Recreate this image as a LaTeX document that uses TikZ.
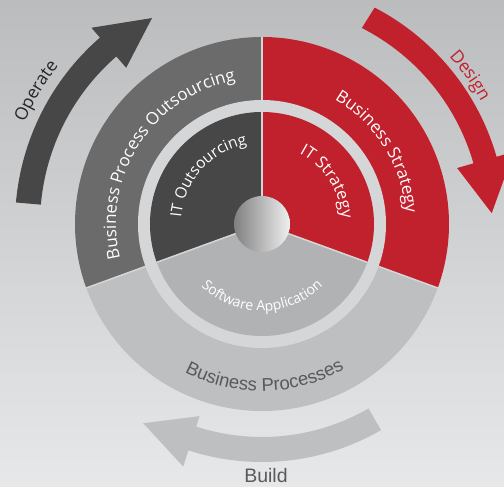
\documentclass[tikz,border=0pt]{standalone}
\usepackage{fontspec}
\setsansfont{Open Sans}
\newfontfamily\arialfont{Liberation Sans}
\usetikzlibrary{decorations.text}
\definecolor{bgtop}{HTML}{BBBCBE}
\definecolor{bgbottom}{HTML}{E7E8E9}
\definecolor{darkseg}{HTML}{474747}
\definecolor{midseg}{HTML}{6B6B6B}
\definecolor{redseg}{HTML}{C1202D}
\definecolor{lightseg}{HTML}{BEBFC1}
\definecolor{softseg}{HTML}{B1B2B4}
\definecolor{gapring}{HTML}{D5D6D8}
\definecolor{labelgray}{HTML}{58595B}
\definecolor{opgray}{HTML}{262626}
\tikzstyle{divider} = [draw=gapring, line width=1.5pt]
\tikzstyle{arctext} = [decorate, decoration={text along path, text align=center}]

\begin{document}
\begin{tikzpicture}[x=1pt, y=1pt]
        \useasboundingbox (-262,-263) rectangle (242,224);
        \shade[top color=bgtop, bottom color=bgbottom] (-262,-263) rectangle (242,224);

        % outer ring
        \fill[midseg] (0,0) -- (90:187) arc[start angle=90, end angle=200, radius=187] -- cycle;
        \fill[redseg] (0,0) -- (-20:187) arc[start angle=-20, end angle=90, radius=187] -- cycle;
        \fill[lightseg] (0,0) -- (200:187) arc[start angle=200, end angle=340, radius=187] -- cycle;
        \fill[gapring] (0,0) circle (124);

        % inner ring
        \fill[darkseg] (0,0) -- (90:112) arc[start angle=90, end angle=200, radius=112] -- cycle;
        \fill[redseg] (0,0) -- (-20:112) arc[start angle=-20, end angle=90, radius=112] -- cycle;
        \fill[softseg] (0,0) -- (200:112) arc[start angle=200, end angle=340, radius=112] -- cycle;

        \draw[divider] (90:124) -- (90:187);
        \draw[divider] (200:124) -- (200:187);
        \draw[divider] (340:124) -- (340:187);
        \draw[divider] (0,0) -- (90:112);
        \draw[divider] (0,0) -- (200:112);
        \draw[divider] (0,0) -- (340:112);

        \shade[left color=black!50, right color=white!94!black] (0,0) circle (28);

        % curved arrows
        \fill[darkseg] (175:222) arc[start angle=175, end angle=131, radius=222] -- (131:207) -- (118.1:233.5)
            -- (131:260) -- (131:247) arc[start angle=131, end angle=175, radius=247] -- cycle;
        \fill[redseg] (63:220) arc[start angle=63, end angle=16, radius=220] -- (16:203) -- (2.7:230)
            -- (16:262) -- (16:244) arc[start angle=16, end angle=62.5, radius=244] -- cycle;
        \fill[lightseg] (300:213) arc[start angle=300, end angle=252, radius=213] -- (252:202) -- (239.2:232)
            -- (252:255) -- (252:238) arc[start angle=252, end angle=300, radius=238] -- cycle;

        % texts on the rings
        \path[arctext, decoration={text={|\sffamily\fontsize{17}{20}\selectfont\color{white}|Business Process Outsourcing}}]
            (203:146) arc[start angle=203, end angle=91, radius=146];
        \path[arctext, decoration={text={|\sffamily\fontsize{15.5}{18}\selectfont\color{white}|IT Outsourcing}}]
            (193:81) arc[start angle=193, end angle=83, radius=81];
        \path[arctext, decoration={text={|\sffamily\fontsize{17}{20}\selectfont\color{white}|Business Strategy}}]
            (87:144) arc[start angle=87, end angle=-23, radius=144];
        \path[arctext, decoration={text={|\sffamily\fontsize{16.5}{19}\selectfont\color{white}|IT Strategy}}]
            (88:80) arc[start angle=88, end angle=-22, radius=80];
        \path[arctext, decoration={text={|\sffamily\fontsize{14}{17}\selectfont\color{white}|Software Application}}]
            (215:87) arc[start angle=215, end angle=325, radius=87];
        \path[arctext, decoration={text={|\arialfont\fontsize{18.5}{21}\selectfont\color{labelgray}|Business Processes}}]
            (215:167) arc[start angle=215, end angle=327, radius=167];

        % arrow labels
        \path[arctext, decoration={text={|\sffamily\fontsize{17.5}{20}\selectfont\color{opgray}|Operate}}]
            (180:258) arc[start angle=180, end angle=119, radius=258];
        \path[arctext, decoration={text={|\sffamily\fontsize{17.5}{20}\selectfont\color{redseg}|Design}}]
            (66:251) arc[start angle=66, end angle=5, radius=251];
        \node (build) at (4,-252) {\arialfont\fontsize{19.5}{22}\selectfont\color{labelgray}Build};
    \end{tikzpicture}
\end{document}
